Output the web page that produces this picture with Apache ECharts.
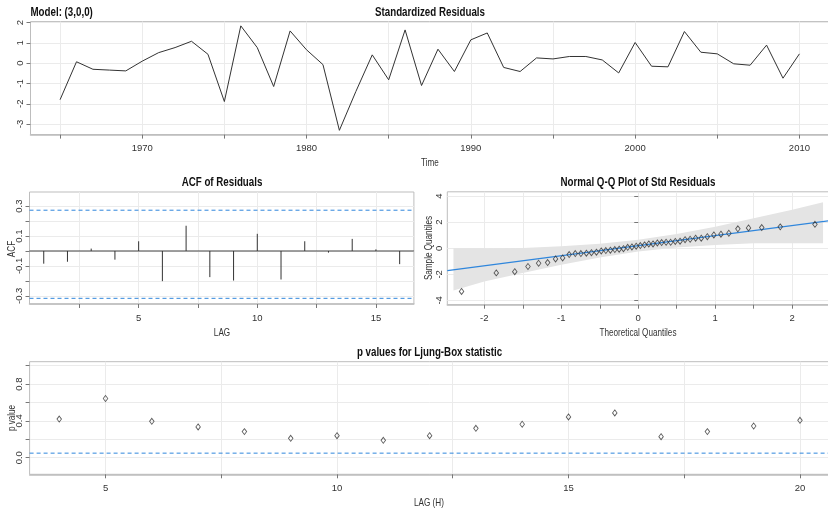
<!DOCTYPE html>
<html><head><meta charset="utf-8">
<script src="https://cdn.jsdelivr.net/npm/echarts@6/dist/echarts.min.js"></script>
<style>html,body{margin:0;padding:0;background:#fff}#c{width:828px;height:511px}</style>
</head><body><div id="c"></div><script>
// ---------- data ----------
const years = [1965,1966,1967,1968,1969,1970,1971,1972,1973,1974,1975,1976,1977,1978,1979,1980,1981,1982,1983,1984,1985,1986,1987,1988,1989,1990,1991,1992,1993,1994,1995,1996,1997,1998,1999,2000,2001,2002,2003,2004,2005,2006,2007,2008,2009,2010];
const stdResid = [-1.80,0.07,-0.30,-0.34,-0.38,0.10,0.52,0.77,1.08,0.44,-1.89,1.84,0.77,-1.15,1.59,0.66,-0.07,-3.31,-1.40,0.41,-0.82,1.64,-1.10,0.69,-0.41,1.15,1.49,-0.21,-0.41,0.26,0.21,0.33,0.33,0.16,-0.48,1.02,-0.15,-0.18,1.56,0.54,0.46,-0.03,-0.10,0.89,-0.74,0.46];
const timeTicks = [1965,1970,1975,1980,1985,1990,1995,2000,2005,2010];
const timeLabels = [1970,1980,1990,2000,2010];
const residTicks = [-3,-2,-1,0,1,2];

const acfLags = [1,2,3,4,5,6,7,8,9,10,11,12,13,14,15,16];
const acfValues = [-0.085,-0.072,0.016,-0.058,0.065,-0.202,0.169,-0.175,-0.198,0.115,-0.191,0.065,-0.011,0.081,0.011,-0.088];
const acfBounds = [0.273,-0.317];
const acfXTicks = [2.5,5,7.5,10,12.5,15];
const acfXLabels = [5,10,15];
const acfYTicks = [-0.3,-0.2,-0.1,0,0.1,0.2,0.3];
const acfYLabels = [-0.3,-0.1,0.1,0.3];

const qqTheoretical = [-2.295,-1.844,-1.604,-1.432,-1.294,-1.177,-1.074,-0.982,-0.897,-0.818,-0.745,-0.674,-0.608,-0.543,-0.481,-0.421,-0.362,-0.304,-0.248,-0.192,-0.137,-0.082,-0.027,0.027,0.082,0.137,0.192,0.248,0.304,0.362,0.421,0.481,0.543,0.608,0.674,0.745,0.818,0.897,0.982,1.074,1.177,1.294,1.432,1.604,1.844,2.295];
const qqSample = [-3.31,-1.89,-1.80,-1.40,-1.15,-1.10,-0.82,-0.74,-0.48,-0.41,-0.41,-0.38,-0.34,-0.30,-0.21,-0.18,-0.15,-0.10,-0.07,-0.03,0.07,0.10,0.16,0.21,0.26,0.33,0.33,0.41,0.44,0.46,0.46,0.52,0.54,0.66,0.69,0.77,0.77,0.89,1.02,1.08,1.15,1.49,1.56,1.59,1.64,1.84];
const qqIntercept = 0.20;
const qqSlope = 0.77;
const bandX = [-2.40,-2.0,-1.5,-1.0,-0.5,0,0.5,1.0,1.5,2.0,2.40];
const bandUpper = [0.0,0.0,0.02,0.15,0.35,0.65,1.10,1.65,2.30,2.95,3.53];
const bandLower = [-3.25,-2.55,-1.90,-1.27,-0.70,-0.25,0.05,0.25,0.38,0.38,0.38];
const qqXTicks = [-2,-1.5,-1,-0.5,0,0.5,1,1.5,2];
const qqXLabels = [-2,-1,0,1,2];
const qqYTicks = [-4,-2,0,2,4];

const lbLags = [4,5,6,7,8,9,10,11,12,13,14,15,16,17,18,19,20];
const lbPValues = [0.42,0.644,0.396,0.335,0.284,0.211,0.24,0.189,0.24,0.32,0.364,0.444,0.487,0.229,0.284,0.345,0.407];
const lbThreshold = 0.05;
const lbXTicks = [5,7.5,10,12.5,15,17.5,20];
const lbXLabels = [5,10,15,20];
const lbYTicks = [0,0.2,0.4,0.6,0.8,1.0];
const lbYLabels = [0,0.4,0.8];

// ---------- style ----------
const FONT = "'Liberation Sans',Arial,Helvetica,sans-serif";
const TXT = '#333';
const GRIDC = '#ebebeb';
const BORDER = '#bdbdbd';
const BLUE = '#2f86dc';

const ext = {
  time: [1963.2, 2011.8], resid: [-3.52, 2.05],
  acfX: [0.4, 16.6], acfY: [-0.355, 0.395],
  qqX: [-2.48, 2.48], qqY: [-4.33, 4.33],
  lbX: [3.36, 20.64], lbY: [-0.18, 1.044]
};

function xAxis(gi, e, ticks, labels) {
  return {
    type: 'value', gridIndex: gi, min: e[0], max: e[1],
    axisLine: {show: true, onZero: false, lineStyle: {color: BORDER, width: 1.5}},
    axisTick: {show: true, customValues: ticks, length: 4, lineStyle: {color: '#777'}},
    axisLabel: {customValues: labels, margin: 9, fontSize: 9.5, color: TXT, fontFamily: FONT,
      formatter: v => String(v)},
    splitLine: {show: true, lineStyle: {color: GRIDC, width: 1}}
  };
}
function yAxis(gi, e, ticks, labels, fmt, margin) {
  return {
    type: 'value', gridIndex: gi, min: e[0], max: e[1],
    axisLine: {show: false},
    axisTick: {show: true, customValues: ticks, length: 4, lineStyle: {color: '#777'}},
    axisLabel: {customValues: labels, rotate: 90, margin: margin, fontSize: 9.5, color: TXT, fontFamily: FONT,
      formatter: fmt || (v => String(v))},
    splitLine: {show: true, lineStyle: {color: GRIDC, width: 1}}
  };
}
const gridBase = {show: true, borderColor: BORDER, borderWidth: 1, containLabel: false, outerBoundsMode: 'none'};

function title(text, x, y, align) {
  return {type: 'text', x, y, scaleX: 0.78, silent: true, z: 100,
    style: {text, fontSize: 12.5, fontWeight: 'bold', fontFamily: FONT, fill: '#111',
      align: align || 'center', verticalAlign: 'middle', textAlign: align || 'center', textVerticalAlign: 'middle'}};
}
function axName(text, x, y, rot) {
  return {type: 'text', x, y, scaleX: 0.74, rotation: rot ? Math.PI / 2 : 0, silent: true, z: 100,
    style: {text, fontSize: 11, fontFamily: FONT, fill: TXT,
      align: 'center', verticalAlign: 'middle', textAlign: 'center', textVerticalAlign: 'middle'}};
}
function hLine(xi, e, yv, color, dashed, z) {
  return {
    type: 'line', xAxisIndex: xi, yAxisIndex: xi, symbol: 'none', silent: true, z: z || 2,
    data: [[e[0], yv], [e[1], yv]],
    lineStyle: {color, width: 1, type: dashed ? [4, 3] : 'solid'}
  };
}

const option = {
  animation: false,
  backgroundColor: '#fff',
  graphic: [
    title('Model: (3,0,0)', 30.5, 13, 'left'),
    title('Standardized Residuals', 430, 13),
    title('ACF of Residuals', 222, 183),
    title('Normal Q-Q Plot of Std Residuals', 638, 183),
    title('p values for Ljung-Box statistic', 429.5, 353),
    axName('Time', 430, 163),
    axName('LAG', 222, 333),
    axName('Theoretical Quantiles', 638, 333),
    axName('LAG (H)', 429, 503),
    axName('ACF', 12, 249, true),
    axName('Sample Quantiles', 428.5, 248, true),
    axName('p value', 12, 418, true)
  ],
  grid: [
    Object.assign({left: 30.5, top: 21.6, width: 798.5, height: 113}, gridBase),
    Object.assign({left: 29.5, top: 192, width: 384.4, height: 112}, gridBase),
    Object.assign({left: 447.3, top: 191.8, width: 381.9, height: 112.9}, gridBase),
    Object.assign({left: 29.6, top: 361.7, width: 800, height: 112.6}, gridBase)
  ],
  xAxis: [
    xAxis(0, ext.time, timeTicks, timeLabels),
    xAxis(1, ext.acfX, acfXTicks, acfXLabels),
    xAxis(2, ext.qqX, qqXTicks, qqXLabels),
    xAxis(3, ext.lbX, lbXTicks, lbXLabels)
  ],
  yAxis: [
    yAxis(0, ext.resid, residTicks, residTicks, null, 5),
    yAxis(1, ext.acfY, acfYTicks, acfYLabels, v => v.toFixed(1), 5),
    yAxis(2, ext.qqY, qqYTicks, qqYTicks, null, 3),
    yAxis(3, ext.lbY, lbYTicks, lbYLabels, v => v.toFixed(1), 5)
  ],
  series: [
    {
      type: 'line', xAxisIndex: 0, yAxisIndex: 0, symbol: 'none',
      data: years.map((y, i) => [y, stdResid[i]]),
      lineStyle: {color: '#333', width: 1}
    },
    hLine(1, ext.acfX, 0, '#444', false, 2),
    hLine(1, ext.acfX, acfBounds[0], BLUE, true, 2),
    hLine(1, ext.acfX, acfBounds[1], BLUE, true, 2),
    {
      type: 'custom', xAxisIndex: 1, yAxisIndex: 1, z: 3,
      data: acfLags.map((l, i) => [l, acfValues[i]]),
      renderItem: (params, api) => {
        const p0 = api.coord([api.value(0), 0]);
        const p1 = api.coord([api.value(0), api.value(1)]);
        return {type: 'line', shape: {x1: p0[0], y1: p0[1], x2: p1[0], y2: p1[1]},
          style: {stroke: '#333', lineWidth: 1}};
      }
    },
    {
      type: 'custom', xAxisIndex: 2, yAxisIndex: 2,
      data: [[0, 0]],
      renderItem: (params, api) => {
        const pts = bandX.map((x, i) => api.coord([x, bandUpper[i]]));
        for (let i = bandX.length - 1; i >= 0; i--) pts.push(api.coord([bandX[i], bandLower[i]]));
        return {type: 'polygon', shape: {points: pts}, style: {fill: '#e4e4e4'}};
      },
      z: 1
    },
    {
      type: 'line', xAxisIndex: 2, yAxisIndex: 2, symbol: 'none',
      data: ext.qqX.map(x => [x, qqIntercept + qqSlope * x]),
      lineStyle: {color: BLUE, width: 1.2}, z: 2
    },
    {
      type: 'scatter', xAxisIndex: 2, yAxisIndex: 2, symbol: 'diamond', symbolSize: [4.5, 6],
      data: qqTheoretical.map((x, i) => [x, qqSample[i]]),
      itemStyle: {color: 'rgba(255,255,255,0)', borderColor: '#333', borderWidth: 0.9}, z: 3
    },
    hLine(3, ext.lbX, lbThreshold, BLUE, true, 2),
    {
      type: 'scatter', xAxisIndex: 3, yAxisIndex: 3, symbol: 'diamond', symbolSize: [4.5, 6],
      data: lbLags.map((l, i) => [l, lbPValues[i]]),
      itemStyle: {color: 'rgba(255,255,255,0)', borderColor: '#333', borderWidth: 0.9}, z: 3
    }
  ]
};
const chart = echarts.init(document.getElementById('c'), null, {renderer: 'canvas'});
chart.setOption(option);
</script></body></html>
